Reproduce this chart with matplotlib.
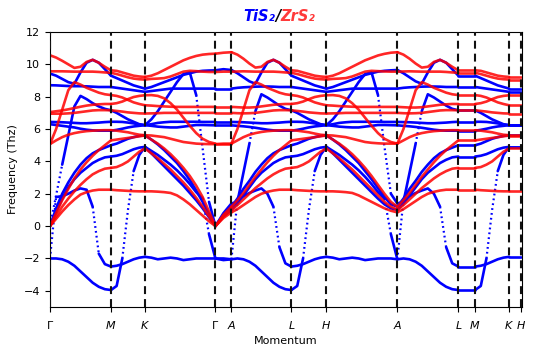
import numpy as np
import matplotlib
matplotlib.use("Agg")
import matplotlib.pyplot as plt

# k-path: distances of the high-symmetry points and their labels
kdist = [0, 61, 95, 165.5, 181.5, 241.5, 276.5, 347.5, 408.5, 425.3, 459.3, 471]
klabels = [r'$\Gamma$', r'$M$', r'$K$', r'$\Gamma$', r'$A$', r'$L$', r'$H$',
           r'$A$', r'$L$', r'$M$', r'$K$', r'$H$']

# ---------------- TiS2 (blue) frequencies, THz, one row per band ----------------
ti_GM = [
    [-2.0, -2.0, -2.05, -2.2, -2.45, -2.8, -3.15, -3.5, -3.75, -3.9, -3.95],
    [-2.0, 1.8, 1.85, 2.0, 2.2, 2.33, 2.25, 1.2, -1.7, -2.35, -2.5],
    [0.0, 0.9, 1.7, 2.4, 2.9, 3.3, 3.6, 3.9, 4.1, 4.25, 4.3],
    [0.0, 1.1, 2.0, 2.7, 3.3, 3.8, 4.2, 4.5, 4.7, 4.85, 5.0],
    [0.0, 1.9, 3.8, 5.6, 7.4, 8.05, 7.85, 7.6, 7.4, 7.25, 7.16],
    [6.44, 6.43, 6.42, 6.4, 6.38, 6.36, 6.36, 6.38, 6.4, 6.43, 6.45],
    [6.3, 6.25, 6.2, 6.15, 6.1, 6.02, 5.96, 5.92, 5.9, 5.9, 5.9],
    [8.71, 8.7, 8.68, 8.66, 8.65, 8.65, 8.64, 8.62, 8.6, 8.6, 8.6],
    [9.43, 9.3, 9.1, 8.9, 8.8, 9.5, 10.1, 10.28, 10.1, 9.7, 9.3],
]
ti_MK = [
    [-3.95, -3.7, -2.0, 1.0, 3.4, 4.4, 4.9],
    [-2.5, -2.45, -2.35, -2.2, -2.05, -1.95, -1.9],
    [4.3, 4.35, 4.45, 4.6, 4.75, 4.85, 4.9],
    [5.0, 5.1, 5.25, 5.4, 5.5, 5.58, 5.62],
    [7.16, 7.0, 6.8, 6.6, 6.45, 6.3, 6.24],
    [6.45, 6.45, 6.44, 6.4, 6.35, 6.28, 6.24],
    [5.9, 5.95, 6.02, 6.1, 6.16, 6.2, 6.24],
    [8.6, 8.55, 8.5, 8.45, 8.4, 8.35, 8.3],
    [9.3, 9.15, 9.0, 8.85, 8.7, 8.6, 8.5],
]
ti_KG = [
    [4.9, 4.5, 4.1, 3.7, 3.3, 2.9, 2.5, 2.05, 1.6, 1.1, 0.55, 0.0],
    [-1.9, -1.95, -2.05, -2.0, -1.95, -2.0, -2.1, -2.05, -2.0, -2.0, -2.0, -2.0],
    [4.9, 4.65, 4.4, 4.1, 3.8, 3.45, 3.05, 2.6, 2.1, 1.7, -0.5, -2.0],
    [5.62, 5.35, 5.05, 4.7, 4.3, 3.9, 3.4, 2.85, 2.2, 1.5, 0.75, 0.0],
    [6.24, 6.2, 6.15, 6.12, 6.1, 6.1, 6.15, 6.2, 6.25, 6.25, 6.24, 6.23],
    [6.24, 6.3, 6.38, 6.42, 6.45, 6.45, 6.45, 6.45, 6.45, 6.44, 6.44, 6.44],
    [6.24, 6.6, 7.1, 7.7, 8.3, 8.9, 9.4, 9.5, 8.1, 4.8, 1.5, 0.0],
    [8.3, 8.35, 8.4, 8.45, 8.5, 8.5, 8.5, 8.5, 8.5, 8.5, 8.5, 8.5],
    [8.5, 8.6, 8.75, 8.9, 9.05, 9.2, 9.35, 9.45, 9.55, 9.6, 9.62, 9.63],
]
ti_GA = [
    [0.0, 0.6, 1.0], [-2.0, -2.1, -2.05], [-2.0, -2.0, -2.05],
    [0.0, 0.7, 1.2], [6.23, 6.23, 6.23], [6.44, 6.44, 6.44],
    [0.0, 0.8, 1.4], [8.5, 8.5, 8.5], [9.63, 9.7, 9.65],
]
ti_AL = [
    [-2.05, -2.0, -2.05, -2.2, -2.45, -2.8, -3.15, -3.5, -3.75, -3.9, -3.95],
    [-2.05, 1.6, 1.85, 2.05, 2.2, 2.33, 2.0, 1.2, -1.3, -2.3, -2.5],
    [1.0, 1.4, 1.9, 2.4, 2.9, 3.3, 3.6, 3.9, 4.1, 4.25, 4.3],
    [1.2, 1.7, 2.3, 2.8, 3.35, 3.8, 4.2, 4.5, 4.7, 4.85, 5.0],
    [1.4, 1.5, 3.3, 5.1, 7.1, 8.15, 7.95, 7.7, 7.45, 7.25, 7.16],
    [6.44, 6.43, 6.42, 6.4, 6.38, 6.36, 6.36, 6.38, 6.4, 6.43, 6.45],
    [6.23, 6.2, 6.17, 6.13, 6.08, 6.02, 5.96, 5.92, 5.9, 5.9, 5.9],
    [8.5, 8.55, 8.58, 8.6, 8.62, 8.63, 8.63, 8.62, 8.6, 8.6, 8.6],
    [9.65, 9.45, 9.2, 8.95, 8.8, 9.5, 10.1, 10.28, 10.1, 9.7, 9.3],
]
ti_HA = [
    [4.9, 4.5, 4.1, 3.7, 3.3, 2.9, 2.5, 2.1, 1.7, 1.35, 1.1, 1.0],
    [-1.9, -1.95, -2.05, -2.0, -1.95, -2.0, -2.1, -2.05, -2.0, -2.0, -2.0, -2.05],
    [4.9, 4.65, 4.4, 4.1, 3.8, 3.45, 3.05, 2.6, 2.1, 1.7, -0.5, -2.05],
    [5.62, 5.35, 5.05, 4.7, 4.3, 3.9, 3.4, 2.9, 2.35, 1.8, 1.35, 1.2],
    [6.24, 6.2, 6.15, 6.12, 6.1, 6.1, 6.15, 6.2, 6.25, 6.25, 6.24, 6.23],
    [6.24, 6.3, 6.38, 6.42, 6.45, 6.45, 6.45, 6.45, 6.45, 6.44, 6.44, 6.44],
    [6.24, 6.6, 7.1, 7.7, 8.3, 8.9, 9.4, 9.5, 8.1, 4.9, 2.0, 1.4],
    [8.3, 8.35, 8.4, 8.45, 8.5, 8.5, 8.5, 8.5, 8.5, 8.5, 8.5, 8.5],
    [8.5, 8.6, 8.75, 8.9, 9.05, 9.2, 9.35, 9.45, 9.55, 9.6, 9.63, 9.65],
]
ti_LM = [[-3.95, -3.95], [-2.5, -2.5], [4.3, 4.3], [5.0, 5.0], [7.16, 7.16],
         [6.45, 6.45], [5.9, 5.9], [8.6, 8.6], [9.3, 9.3]]
ti_KH = [[4.9, 4.9], [-1.9, -1.9], [4.9, 4.9], [5.62, 5.62], [6.24, 6.24],
         [6.24, 6.24], [6.24, 6.24], [8.3, 8.3], [8.5, 8.5]]

# ---------------- ZrS2 (red) frequencies ----------------
zr_GM = [
    [0.0, 0.45, 0.9, 1.3, 1.65, 1.95, 2.1, 2.2, 2.25, 2.25, 2.25],
    [0.0, 0.6, 1.2, 1.7, 2.15, 2.55, 2.9, 3.2, 3.4, 3.55, 3.6],
    [0.0, 0.8, 1.6, 2.3, 2.95, 3.5, 3.95, 4.35, 4.7, 5.0, 5.3],
    [5.07, 5.3, 5.5, 5.65, 5.75, 5.82, 5.87, 5.9, 5.92, 5.93, 5.93],
    [5.07, 6.0, 7.2, 8.4, 8.9, 8.75, 8.55, 8.4, 8.25, 8.15, 8.1],
    [6.95, 6.95, 6.95, 6.97, 7.0, 7.05, 7.1, 7.15, 7.17, 7.17, 7.16],
    [7.05, 7.1, 7.15, 7.22, 7.3, 7.38, 7.45, 7.5, 7.53, 7.55, 7.55],
    [9.57, 9.57, 9.57, 9.56, 9.55, 9.55, 9.55, 9.55, 9.53, 9.5, 9.48],
    [10.56, 10.42, 10.22, 10.0, 9.78, 9.85, 10.15, 10.28, 10.1, 9.85, 9.63],
]
zr_MK = [
    [2.25, 2.22, 2.2, 2.18, 2.16, 2.15, 2.15],
    [3.6, 3.65, 3.8, 4.0, 4.3, 4.6, 4.8],
    [5.3, 5.35, 5.4, 5.45, 5.5, 5.55, 5.6],
    [5.93, 5.9, 5.85, 5.8, 5.72, 5.65, 5.62],
    [8.1, 8.05, 7.95, 7.8, 7.65, 7.55, 7.47],
    [7.16, 7.12, 7.08, 7.03, 7.0, 6.97, 6.96],
    [7.55, 7.6, 7.7, 7.85, 7.98, 8.05, 8.09],
    [9.48, 9.4, 9.3, 9.2, 9.12, 9.08, 9.06],
    [9.63, 9.6, 9.5, 9.4, 9.3, 9.25, 9.22],
]
zr_KG = [
    [2.15, 2.15, 2.13, 2.1, 2.05, 1.9, 1.65, 1.35, 1.0, 0.65, 0.3, 0.0],
    [4.8, 4.5, 4.2, 3.85, 3.5, 3.1, 2.7, 2.25, 1.75, 1.2, 0.6, 0.0],
    [5.6, 5.35, 5.1, 4.8, 4.45, 4.05, 3.6, 3.1, 2.5, 1.8, 0.9, 0.0],
    [5.62, 5.6, 5.55, 5.5, 5.4, 5.3, 5.2, 5.15, 5.1, 5.08, 5.07, 5.07],
    [7.47, 7.45, 7.42, 7.4, 7.38, 7.37, 7.37, 7.37, 7.37, 7.37, 7.37, 7.37],
    [6.96, 6.97, 6.98, 7.0, 7.0, 7.0, 7.0, 7.0, 7.0, 7.0, 7.0, 7.0],
    [8.09, 8.1, 8.05, 7.9, 7.6, 7.2, 6.7, 6.2, 5.75, 5.4, 5.2, 5.1],
    [9.06, 9.1, 9.12, 9.15, 9.25, 9.4, 9.55, 9.6, 9.58, 9.55, 9.53, 9.53],
    [9.22, 9.3, 9.45, 9.65, 9.85, 10.05, 10.25, 10.4, 10.52, 10.6, 10.64, 10.66],
]
zr_GA = [
    [0.0, 0.5, 0.85], [0.0, 0.6, 1.0], [0.0, 0.7, 1.2],
    [5.07, 5.1, 5.1], [7.37, 7.37, 7.37], [7.0, 7.0, 7.0],
    [5.1, 5.1, 5.1], [9.53, 9.55, 9.55], [10.66, 10.72, 10.75],
]
zr_AL = [
    [0.85, 1.05, 1.3, 1.55, 1.8, 2.0, 2.12, 2.2, 2.25, 2.25, 2.25],
    [1.0, 1.3, 1.65, 2.0, 2.35, 2.65, 2.95, 3.2, 3.4, 3.55, 3.6],
    [1.2, 1.6, 2.05, 2.55, 3.05, 3.5, 3.95, 4.35, 4.7, 5.0, 5.3],
    [5.1, 5.3, 5.5, 5.65, 5.75, 5.82, 5.87, 5.9, 5.92, 5.93, 5.93],
    [5.1, 6.0, 7.2, 8.4, 8.9, 8.75, 8.55, 8.4, 8.25, 8.15, 8.1],
    [7.0, 6.98, 6.97, 6.98, 7.0, 7.05, 7.1, 7.15, 7.17, 7.17, 7.16],
    [7.37, 7.35, 7.33, 7.33, 7.35, 7.4, 7.45, 7.5, 7.53, 7.55, 7.55],
    [9.55, 9.56, 9.57, 9.56, 9.55, 9.55, 9.55, 9.55, 9.53, 9.5, 9.48],
    [10.75, 10.6, 10.35, 10.05, 9.8, 9.85, 10.15, 10.28, 10.1, 9.85, 9.63],
]
zr_HA = [
    [2.15, 2.15, 2.13, 2.1, 2.05, 1.9, 1.7, 1.5, 1.3, 1.1, 0.95, 0.85],
    [4.8, 4.5, 4.2, 3.85, 3.5, 3.1, 2.7, 2.3, 1.9, 1.5, 1.2, 1.0],
    [5.6, 5.35, 5.1, 4.8, 4.45, 4.05, 3.6, 3.1, 2.55, 2.0, 1.5, 1.2],
    [5.62, 5.6, 5.55, 5.5, 5.4, 5.3, 5.2, 5.15, 5.12, 5.1, 5.1, 5.1],
    [7.47, 7.45, 7.42, 7.4, 7.38, 7.37, 7.37, 7.37, 7.37, 7.37, 7.37, 7.37],
    [6.96, 6.97, 6.98, 7.0, 7.0, 7.0, 7.0, 7.0, 7.0, 7.0, 7.0, 7.0],
    [8.09, 8.1, 8.05, 7.9, 7.6, 7.2, 6.7, 6.2, 5.75, 5.4, 5.2, 5.1],
    [9.06, 9.1, 9.12, 9.15, 9.25, 9.4, 9.55, 9.6, 9.58, 9.56, 9.55, 9.55],
    [9.22, 9.3, 9.45, 9.65, 9.85, 10.05, 10.25, 10.4, 10.55, 10.65, 10.72, 10.75],
]
zr_LM = [[2.25, 2.25], [3.6, 3.6], [5.3, 5.3], [5.93, 5.93], [8.1, 8.1],
         [7.16, 7.16], [7.55, 7.55], [9.48, 9.48], [9.63, 9.63]]
zr_KH = [[2.15, 2.15], [4.8, 4.8], [5.6, 5.6], [5.62, 5.62], [7.47, 7.47],
         [6.96, 6.96], [8.09, 8.09], [9.06, 9.06], [9.22, 9.22]]

ti_path = [ti_GM, ti_MK, ti_KG, ti_GA, ti_AL, ti_MK, ti_HA, ti_AL, ti_LM, ti_MK, ti_KH]
zr_path = [zr_GM, zr_MK, zr_KG, zr_GA, zr_AL, zr_MK, zr_HA, zr_AL, zr_LM, zr_MK, zr_KH]


def draw_bands(ax, path, color, alpha):
    # steep pieces look dotted in the original (sparse sampling), flat ones solid
    for i, bands in enumerate(path):
        x0, x1 = kdist[i], kdist[i + 1]
        for vals in bands:
            ys = np.asarray(vals, float)
            xs = np.linspace(x0, x1, len(ys))
            steep = np.abs(np.diff(ys)) * 16.2 / np.diff(xs) > 5
            start = 0
            for j in range(1, len(steep) + 1):
                if j == len(steep) or steep[j] != steep[start]:
                    if steep[start]:
                        ax.plot(xs[start:j + 1], ys[start:j + 1], color=color,
                                lw=1.6, ls=(0, (0.8, 1.4)), alpha=alpha)
                    else:
                        ax.plot(xs[start:j + 1], ys[start:j + 1], color=color,
                                lw=1.9, alpha=alpha, solid_capstyle='round')
                    start = j


fig = plt.figure(figsize=(5.36, 3.53), dpi=100)
ax = fig.add_axes([50 / 536, 1 - 307 / 353, 472.3 / 536, 275 / 353])

draw_bands(ax, ti_path, '#0000ff', 1.0)
draw_bands(ax, zr_path, '#ff0000', 0.85)

for xk in kdist:
    ax.axvline(xk, color='#111111', lw=1.5, ls=(0, (3.8, 2.4)), zorder=5)

ax.set_xlim(0, 472.5)
ax.set_ylim(-5, 12)
ax.set_yticks(range(-4, 13, 2))
ax.set_xticks(kdist)
ax.set_xticklabels(klabels)
ax.tick_params(labelsize=8, length=3.5)
ax.tick_params(axis='x', pad=5)
ax.set_ylabel('Frequency (Thz)', fontsize=8, labelpad=4)
ax.set_xlabel('Momentum', fontsize=8, labelpad=4)

fig.text(0.514, 0.952, 'TiS\u2082', color='#0000ff', fontsize=10.5,
         fontweight='bold', fontstyle='italic', ha='right', va='center')
fig.text(0.519, 0.952, '/', color='black', fontsize=10.5,
         fontweight='bold', fontstyle='italic', ha='center', va='center')
fig.text(0.524, 0.952, 'ZrS\u2082', color='#ff3a3a', fontsize=10.5,
         fontweight='bold', fontstyle='italic', ha='left', va='center')

fig.savefig('out.png', dpi=100)
